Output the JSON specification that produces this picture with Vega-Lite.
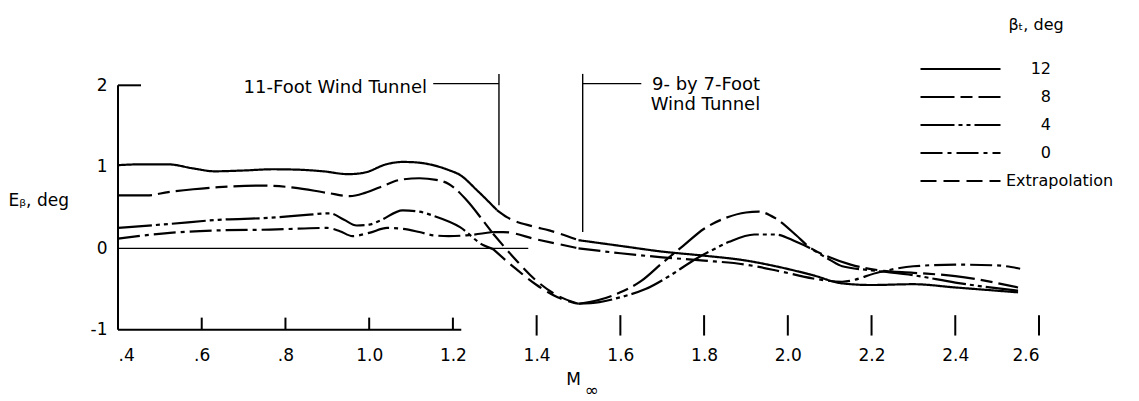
{
  "$schema": "https://vega.github.io/schema/vega-lite/v6.json",
  "width": 921,
  "height": 269,
  "autosize": {"type": "none"},
  "padding": {"left": 118, "top": 69, "right": 100, "bottom": 63},
  "background": "white",
  "config": {
    "view": {"stroke": null},
    "font": "DejaVu Sans",
    "axis": {"grid": false, "domain": false, "ticks": false, "labelFontSize": 17, "labelColor": "black", "titleColor": "black", "titleFontWeight": "normal", "titleFontSize": 17, "labelFont": "DejaVu Sans", "titleFont": "DejaVu Sans"},
    "legend": {"labelColor": "black", "titleColor": "black", "labelFont": "DejaVu Sans", "titleFont": "DejaVu Sans"}
  },
  "datasets": {
    "curves": [
      {"s": "12", "seg": "12a", "M": 0.4, "E": 1.02},
      {"s": "12", "seg": "12a", "M": 0.45, "E": 1.03},
      {"s": "12", "seg": "12a", "M": 0.52, "E": 1.03},
      {"s": "12", "seg": "12a", "M": 0.58, "E": 0.98},
      {"s": "12", "seg": "12a", "M": 0.63, "E": 0.945},
      {"s": "12", "seg": "12a", "M": 0.7, "E": 0.955},
      {"s": "12", "seg": "12a", "M": 0.77, "E": 0.97},
      {"s": "12", "seg": "12a", "M": 0.83, "E": 0.965},
      {"s": "12", "seg": "12a", "M": 0.89, "E": 0.945},
      {"s": "12", "seg": "12a", "M": 0.95, "E": 0.91},
      {"s": "12", "seg": "12a", "M": 0.99, "E": 0.93},
      {"s": "12", "seg": "12a", "M": 1.04, "E": 1.03},
      {"s": "12", "seg": "12a", "M": 1.08, "E": 1.06},
      {"s": "12", "seg": "12a", "M": 1.11, "E": 1.055},
      {"s": "12", "seg": "12a", "M": 1.153, "E": 1.02},
      {"s": "12", "seg": "12a", "M": 1.19, "E": 0.96},
      {"s": "12", "seg": "12a", "M": 1.217, "E": 0.9},
      {"s": "12", "seg": "12a", "M": 1.258, "E": 0.71},
      {"s": "12", "seg": "12a", "M": 1.305, "E": 0.47},

      {"s": "8", "seg": "8a", "M": 0.4, "E": 0.65},
      {"s": "8", "seg": "8a", "M": 0.47, "E": 0.65},
      {"s": "8", "seg": "8a", "M": 0.52, "E": 0.69},
      {"s": "8", "seg": "8a", "M": 0.58, "E": 0.725},
      {"s": "8", "seg": "8a", "M": 0.64, "E": 0.75},
      {"s": "8", "seg": "8a", "M": 0.74, "E": 0.77},
      {"s": "8", "seg": "8a", "M": 0.82, "E": 0.745},
      {"s": "8", "seg": "8a", "M": 0.9, "E": 0.68},
      {"s": "8", "seg": "8a", "M": 0.954, "E": 0.64},
      {"s": "8", "seg": "8a", "M": 0.99, "E": 0.68},
      {"s": "8", "seg": "8a", "M": 1.026, "E": 0.75},
      {"s": "8", "seg": "8a", "M": 1.074, "E": 0.84},
      {"s": "8", "seg": "8a", "M": 1.12, "E": 0.86},
      {"s": "8", "seg": "8a", "M": 1.16, "E": 0.84},
      {"s": "8", "seg": "8a", "M": 1.19, "E": 0.79},
      {"s": "8", "seg": "8a", "M": 1.233, "E": 0.59},
      {"s": "8", "seg": "8a", "M": 1.272, "E": 0.34},
      {"s": "8", "seg": "8a", "M": 1.296, "E": 0.18},

      {"s": "4", "seg": "4a", "M": 0.4, "E": 0.25},
      {"s": "4", "seg": "4a", "M": 0.524, "E": 0.3},
      {"s": "4", "seg": "4a", "M": 0.64, "E": 0.35},
      {"s": "4", "seg": "4a", "M": 0.763, "E": 0.375},
      {"s": "4", "seg": "4a", "M": 0.85, "E": 0.41},
      {"s": "4", "seg": "4a", "M": 0.906, "E": 0.43},
      {"s": "4", "seg": "4a", "M": 0.94, "E": 0.35},
      {"s": "4", "seg": "4a", "M": 0.97, "E": 0.28},
      {"s": "4", "seg": "4a", "M": 1.0, "E": 0.29},
      {"s": "4", "seg": "4a", "M": 1.026, "E": 0.34},
      {"s": "4", "seg": "4a", "M": 1.08, "E": 0.466},
      {"s": "4", "seg": "4a", "M": 1.12, "E": 0.45},
      {"s": "4", "seg": "4a", "M": 1.153, "E": 0.4},
      {"s": "4", "seg": "4a", "M": 1.217, "E": 0.26},
      {"s": "4", "seg": "4a", "M": 1.272, "E": 0.04},
      {"s": "4", "seg": "4a", "M": 1.296, "E": -0.01},

      {"s": "0", "seg": "0a", "M": 0.4, "E": 0.12},
      {"s": "0", "seg": "0a", "M": 0.524, "E": 0.19},
      {"s": "0", "seg": "0a", "M": 0.64, "E": 0.22},
      {"s": "0", "seg": "0a", "M": 0.763, "E": 0.23},
      {"s": "0", "seg": "0a", "M": 0.9, "E": 0.25},
      {"s": "0", "seg": "0a", "M": 0.93, "E": 0.21},
      {"s": "0", "seg": "0a", "M": 0.96, "E": 0.15},
      {"s": "0", "seg": "0a", "M": 1.0, "E": 0.19},
      {"s": "0", "seg": "0a", "M": 1.043, "E": 0.25},
      {"s": "0", "seg": "0a", "M": 1.08, "E": 0.24},
      {"s": "0", "seg": "0a", "M": 1.12, "E": 0.2},
      {"s": "0", "seg": "0a", "M": 1.153, "E": 0.16},
      {"s": "0", "seg": "0a", "M": 1.19, "E": 0.15},
      {"s": "0", "seg": "0a", "M": 1.233, "E": 0.16},
      {"s": "0", "seg": "0a", "M": 1.296, "E": 0.2},

      {"s": "Extrapolation", "seg": "E12", "M": 1.305, "E": 0.47},
      {"s": "Extrapolation", "seg": "E12", "M": 1.33, "E": 0.38},
      {"s": "Extrapolation", "seg": "E12", "M": 1.39, "E": 0.27},
      {"s": "Extrapolation", "seg": "E12", "M": 1.43, "E": 0.22},
      {"s": "Extrapolation", "seg": "E12", "M": 1.5, "E": 0.1},
      {"s": "Extrapolation", "seg": "E0", "M": 1.296, "E": 0.2},
      {"s": "Extrapolation", "seg": "E0", "M": 1.32, "E": 0.2},
      {"s": "Extrapolation", "seg": "E0", "M": 1.4, "E": 0.11},
      {"s": "Extrapolation", "seg": "E0", "M": 1.5, "E": 0.0},
      {"s": "Extrapolation", "seg": "E8", "M": 1.296, "E": 0.18},
      {"s": "Extrapolation", "seg": "E8", "M": 1.35, "E": -0.14},
      {"s": "Extrapolation", "seg": "E8", "M": 1.4, "E": -0.4},
      {"s": "Extrapolation", "seg": "E8", "M": 1.45, "E": -0.58},
      {"s": "Extrapolation", "seg": "E8", "M": 1.5, "E": -0.68},
      {"s": "Extrapolation", "seg": "E4", "M": 1.296, "E": -0.01},
      {"s": "Extrapolation", "seg": "E4", "M": 1.35, "E": -0.25},
      {"s": "Extrapolation", "seg": "E4", "M": 1.4, "E": -0.45},
      {"s": "Extrapolation", "seg": "E4", "M": 1.45, "E": -0.6},
      {"s": "Extrapolation", "seg": "E4", "M": 1.5, "E": -0.68},

      {"s": "12", "seg": "12b", "M": 1.5, "E": 0.1},
      {"s": "12", "seg": "12b", "M": 1.6, "E": 0.03},
      {"s": "12", "seg": "12b", "M": 1.7, "E": -0.04},
      {"s": "12", "seg": "12b", "M": 1.8, "E": -0.09},
      {"s": "12", "seg": "12b", "M": 1.9, "E": -0.15},
      {"s": "12", "seg": "12b", "M": 1.98, "E": -0.23},
      {"s": "12", "seg": "12b", "M": 2.06, "E": -0.33},
      {"s": "12", "seg": "12b", "M": 2.13, "E": -0.43},
      {"s": "12", "seg": "12b", "M": 2.2, "E": -0.45},
      {"s": "12", "seg": "12b", "M": 2.3, "E": -0.44},
      {"s": "12", "seg": "12b", "M": 2.4, "E": -0.48},
      {"s": "12", "seg": "12b", "M": 2.55, "E": -0.54},

      {"s": "0", "seg": "0b", "M": 1.5, "E": 0.0},
      {"s": "0", "seg": "0b", "M": 1.6, "E": -0.06},
      {"s": "0", "seg": "0b", "M": 1.7, "E": -0.11},
      {"s": "0", "seg": "0b", "M": 1.8, "E": -0.15},
      {"s": "0", "seg": "0b", "M": 1.9, "E": -0.2},
      {"s": "0", "seg": "0b", "M": 1.98, "E": -0.28},
      {"s": "0", "seg": "0b", "M": 2.06, "E": -0.37},
      {"s": "0", "seg": "0b", "M": 2.13, "E": -0.41},
      {"s": "0", "seg": "0b", "M": 2.22, "E": -0.29},
      {"s": "0", "seg": "0b", "M": 2.3, "E": -0.22},
      {"s": "0", "seg": "0b", "M": 2.4, "E": -0.2},
      {"s": "0", "seg": "0b", "M": 2.5, "E": -0.21},
      {"s": "0", "seg": "0b", "M": 2.555, "E": -0.25},

      {"s": "8", "seg": "8b", "M": 1.5, "E": -0.68},
      {"s": "8", "seg": "8b", "M": 1.55, "E": -0.63},
      {"s": "8", "seg": "8b", "M": 1.6, "E": -0.54},
      {"s": "8", "seg": "8b", "M": 1.65, "E": -0.4},
      {"s": "8", "seg": "8b", "M": 1.7, "E": -0.18},
      {"s": "8", "seg": "8b", "M": 1.75, "E": 0.03},
      {"s": "8", "seg": "8b", "M": 1.8, "E": 0.24},
      {"s": "8", "seg": "8b", "M": 1.85, "E": 0.37},
      {"s": "8", "seg": "8b", "M": 1.9, "E": 0.44},
      {"s": "8", "seg": "8b", "M": 1.93, "E": 0.45},
      {"s": "8", "seg": "8b", "M": 1.97, "E": 0.37},
      {"s": "8", "seg": "8b", "M": 2.02, "E": 0.16},
      {"s": "8", "seg": "8b", "M": 2.05, "E": 0.02},
      {"s": "8", "seg": "8b", "M": 2.1, "E": -0.11},
      {"s": "8", "seg": "8b", "M": 2.15, "E": -0.2},
      {"s": "8", "seg": "8b", "M": 2.22, "E": -0.27},
      {"s": "8", "seg": "8b", "M": 2.3, "E": -0.3},
      {"s": "8", "seg": "8b", "M": 2.4, "E": -0.34},
      {"s": "8", "seg": "8b", "M": 2.55, "E": -0.48},

      {"s": "4", "seg": "4b", "M": 1.5, "E": -0.68},
      {"s": "4", "seg": "4b", "M": 1.55, "E": -0.66},
      {"s": "4", "seg": "4b", "M": 1.6, "E": -0.6},
      {"s": "4", "seg": "4b", "M": 1.66, "E": -0.5},
      {"s": "4", "seg": "4b", "M": 1.72, "E": -0.33},
      {"s": "4", "seg": "4b", "M": 1.78, "E": -0.13},
      {"s": "4", "seg": "4b", "M": 1.82, "E": -0.02},
      {"s": "4", "seg": "4b", "M": 1.86, "E": 0.08},
      {"s": "4", "seg": "4b", "M": 1.92, "E": 0.17},
      {"s": "4", "seg": "4b", "M": 1.97, "E": 0.17},
      {"s": "4", "seg": "4b", "M": 2.02, "E": 0.08},
      {"s": "4", "seg": "4b", "M": 2.05, "E": 0.01},
      {"s": "4", "seg": "4b", "M": 2.1, "E": -0.14},
      {"s": "4", "seg": "4b", "M": 2.13, "E": -0.22},
      {"s": "4", "seg": "4b", "M": 2.2, "E": -0.27},
      {"s": "4", "seg": "4b", "M": 2.3, "E": -0.33},
      {"s": "4", "seg": "4b", "M": 2.4, "E": -0.42},
      {"s": "4", "seg": "4b", "M": 2.55, "E": -0.52}
    ],
    "frame": [
      {"M": 0.4, "M2": 1.22, "E": -1, "E2": -1},
      {"M": 0.4, "M2": 0.4, "E": -1, "E2": 2},
      {"M": 0.4, "M2": 0.455, "E": 2, "E2": 2},
      {"M": 0.6, "M2": 0.6, "E": -1, "E2": -0.85},
      {"M": 0.8, "M2": 0.8, "E": -1, "E2": -0.85},
      {"M": 1.0, "M2": 1.0, "E": -1, "E2": -0.85},
      {"M": 1.2, "M2": 1.2, "E": -1, "E2": -0.85},
      {"M": 1.4, "M2": 1.4, "E": -1.07, "E2": -0.82},
      {"M": 1.6, "M2": 1.6, "E": -1.07, "E2": -0.82},
      {"M": 1.8, "M2": 1.8, "E": -1.07, "E2": -0.82},
      {"M": 2.0, "M2": 2.0, "E": -1.07, "E2": -0.82},
      {"M": 2.2, "M2": 2.2, "E": -1.07, "E2": -0.82},
      {"M": 2.4, "M2": 2.4, "E": -1.07, "E2": -0.82},
      {"M": 2.6, "M2": 2.6, "E": -1.07, "E2": -0.82}
    ],
    "thin": [
      {"M": 0.4, "M2": 1.38, "E": 0, "E2": 0},
      {"M": 1.153, "M2": 1.31, "E": 2.02, "E2": 2.02},
      {"M": 1.31, "M2": 1.31, "E": 2.14, "E2": 0.53},
      {"M": 1.51, "M2": 1.51, "E": 2.14, "E2": 0.2},
      {"M": 1.51, "M2": 1.65, "E": 2.02, "E2": 2.02}
    ],
    "notes": [
      {"t": "11-Foot Wind Tunnel", "M": 1.138, "E": 1.97},
      {"t": "9- by 7-Foot", "M": 1.934, "E": 2.0},
      {"t": "Wind Tunnel", "M": 1.934, "E": 1.76}
    ],
    "sub": [
      {"t": "\u221e", "M": 1.532, "E": -1.755}
    ]
  },
  "layer": [
    {
      "data": {"name": "frame"},
      "mark": {"type": "rule", "strokeWidth": 2, "color": "black"},
      "encoding": {
        "x": {"field": "M", "type": "quantitative", "title": "M"},
        "x2": {"field": "M2"},
        "y": {"field": "E", "type": "quantitative", "title": "E\u1d66, deg"},
        "y2": {"field": "E2"}
      }
    },
    {
      "data": {"name": "thin"},
      "mark": {"type": "rule", "strokeWidth": 1.4, "color": "black"},
      "encoding": {
        "x": {"field": "M", "type": "quantitative", "title": "M"},
        "x2": {"field": "M2"},
        "y": {"field": "E", "type": "quantitative", "title": "E\u1d66, deg"},
        "y2": {"field": "E2"}
      }
    },
    {
      "data": {"name": "curves"},
      "mark": {"type": "line", "interpolate": "monotone", "strokeWidth": 2.2, "color": "black"},
      "encoding": {
        "x": {
          "field": "M", "type": "quantitative",
          "title": "M",
          "scale": {"domain": [0.4, 2.6], "nice": false, "zero": false},
          "axis": {
            "values": [0.4, 0.6, 0.8, 1.0, 1.2, 1.4, 1.6, 1.8, 2.0, 2.2, 2.4, 2.6],
            "labelExpr": "datum.value < 0.99 ? replace(format(datum.value, '.1f'), '0.', '.') : format(datum.value, '.1f')",
            "labelPadding": 9,
            "titleX": 455,
            "titlePadding": 8
          }
        },
        "y": {
          "field": "E", "type": "quantitative",
          "title": "E\u1d66, deg",
          "scale": {"domain": [-1.1, 2.2], "nice": false, "zero": false},
          "axis": {
            "values": [-1, 0, 1, 2],
            "labelExpr": "datum.value < 0 ? '-' + abs(datum.value) : '' + datum.value",
            "labelPadding": 11,
            "titleAngle": 0,
            "titleAlign": "left",
            "titleBaseline": "middle",
            "titleX": -110,
            "titleY": 131
          }
        },
        "detail": {"field": "seg"},
        "strokeDash": {
          "field": "s", "type": "nominal",
          "scale": {
            "domain": ["12", "8", "4", "0", "Extrapolation"],
            "range": [[1, 0], [34, 6, 12, 6], [34, 4, 4, 4, 4, 4], [22, 5, 4, 5], [16, 7]]
          },
          "legend": {
            "title": "\u03b2\u209c, deg",
            "orient": "none",
            "legendX": 801,
            "legendY": -52,
            "symbolType": "stroke",
            "symbolSize": 6400,
            "symbolStrokeWidth": 2.2,
            "symbolStrokeColor": "black",
            "clipHeight": 16,
            "rowPadding": 12,
            "labelFontSize": 16,
            "labelOffset": 4,
            "titleFontSize": 16,
            "titleFontWeight": "normal",
            "titleAnchor": "middle",
            "titlePadding": 28,
            "padding": 0,
            "encode": {
              "labels": {
                "update": {
                  "align": {"signal": "datum.label == 'Extrapolation' ? 'left' : 'right'"},
                  "x": {"signal": "datum.label == 'Extrapolation' ? 87 : 132"}
                }
              },
              "title": {
                "update": {
                  "dx": {"value": 20}
                }
              }
            }
          }
        }
      }
    },
    {
      "data": {"name": "notes"},
      "mark": {"type": "text", "align": "right", "baseline": "middle", "fontSize": 18, "color": "black", "font": "DejaVu Sans"},
      "encoding": {
        "x": {"field": "M", "type": "quantitative", "title": "M"},
        "y": {"field": "E", "type": "quantitative", "title": "E\u1d66, deg"},
        "text": {"field": "t"}
      }
    },
    {
      "data": {"name": "sub"},
      "mark": {"type": "text", "align": "center", "baseline": "middle", "fontSize": 17, "color": "black", "font": "DejaVu Sans"},
      "encoding": {
        "x": {"field": "M", "type": "quantitative", "title": "M"},
        "y": {"field": "E", "type": "quantitative", "title": "E\u1d66, deg"},
        "text": {"field": "t"}
      }
    }
  ]
}
